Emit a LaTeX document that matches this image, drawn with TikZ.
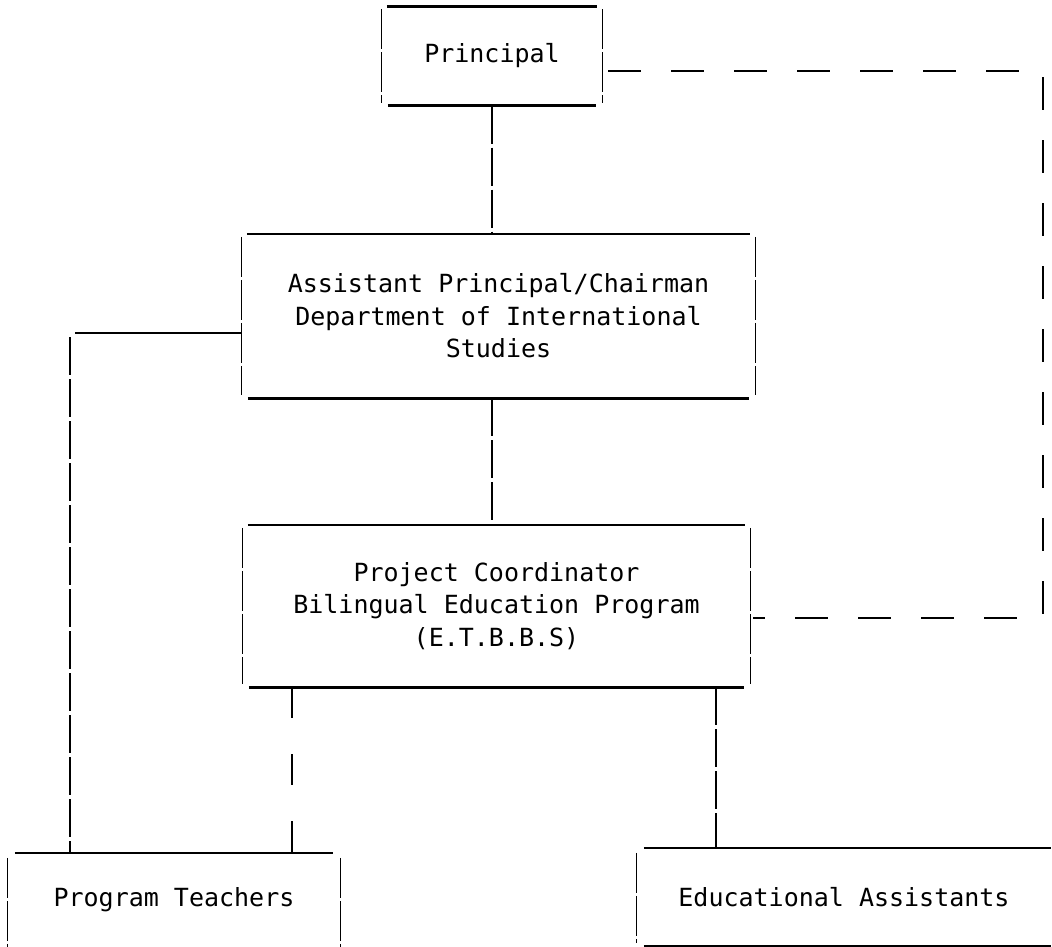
\documentclass[tikz,border=0pt]{standalone}
\usepackage{fontspec}
\setmonofont{DejaVu Sans Mono}
\begin{document}
\begin{tikzpicture}[x=1pt,y=-1pt,
  boxnode/.style={inner sep=0pt, align=center, font=\ttfamily\fontsize{25}{32.5}\selectfont},
  hline/.style={line width=2.6pt},
  side/.style={line width=1.2pt, dash pattern=on 40pt off 3pt},
  vline/.style={line width=1.2pt, dash pattern=on 38pt off 4pt},
  gapline/.style={line width=1.4pt, dash pattern=on 31pt off 36pt},
  rdash/.style={line width=2.6pt, dash pattern=on 33pt off 30pt}]
\useasboundingbox (0,0) rectangle (1052,947);

% boxes (text nodes sized to the side rules)
\node[boxnode, minimum width=220pt, minimum height=99pt] (P) at (492,56) {Principal};
\node[boxnode, minimum width=513pt, minimum height=164pt] (AP) at (498.5,316)
  {Assistant Principal/Chairman\\Department of International\\Studies};
\node[boxnode, minimum width=507pt, minimum height=162pt] (PC) at (496.5,606)
  {Project Coordinator\\Bilingual Education Program\\(E.T.B.B.S)};
\node[boxnode, minimum width=332pt, minimum height=94pt] (PT) at (174,900) {Program Teachers};
\node[boxnode, minimum width=414pt, minimum height=98pt] (EA) at (844,897) {Educational Assistants};

% heavy top and bottom rules, light side rules
\foreach \b in {P,AP,PC}{
  \draw[hline] ([xshift=5pt]\b.north west) -- ([xshift=-5pt]\b.north east);
  \draw[hline] ([xshift=6pt]\b.south west) -- ([xshift=-6pt]\b.south east);
  \draw[side] ([yshift=-3pt]\b.north west) -- ([yshift=3pt]\b.south west);
  \draw[side] ([yshift=-3pt]\b.north east) -- ([yshift=3pt]\b.south east);
}
\draw[hline] ([xshift=7pt]PT.north west) -- ([xshift=-7pt]PT.north east);
\draw[side] ([yshift=-5pt]PT.north west) -- (PT.south west);
\draw[side] ([yshift=-5pt]PT.north east) -- (PT.south east);
\draw[hline] ([xshift=7pt]EA.north west) -- (EA.north east);
\draw[hline] ([xshift=7pt]EA.south west) -- (EA.south east);
\draw[side] ([yshift=-5pt]EA.north west) -- ([yshift=3pt]EA.south west);

% connectors
\draw[vline] (P.south) -- (P.south |- AP.north);
\draw[vline] (AP.south -| P.south) -- (PC.north -| P.south);

\coordinate (lt) at (70,333);
\draw[hline] (AP.west |- lt) -- ([xshift=5pt]lt);
\draw[vline] ([yshift=-4pt]lt) -- (lt |- PT.north);

\coordinate (c1) at (292,0);
\draw[gapline] (PC.south -| c1) -- (PT.north -| c1);
\coordinate (c2) at (716,0);
\draw[vline] (PC.south -| c2) -- (EA.north -| c2);

\coordinate (r1) at (1043,71);
\coordinate (r2) at (1043,618);
\draw[rdash] ([xshift=6pt]P.east |- r1) -- (r1) -- (r2) -- ([xshift=3pt]PC.east |- r2);
\end{tikzpicture}
\end{document}
